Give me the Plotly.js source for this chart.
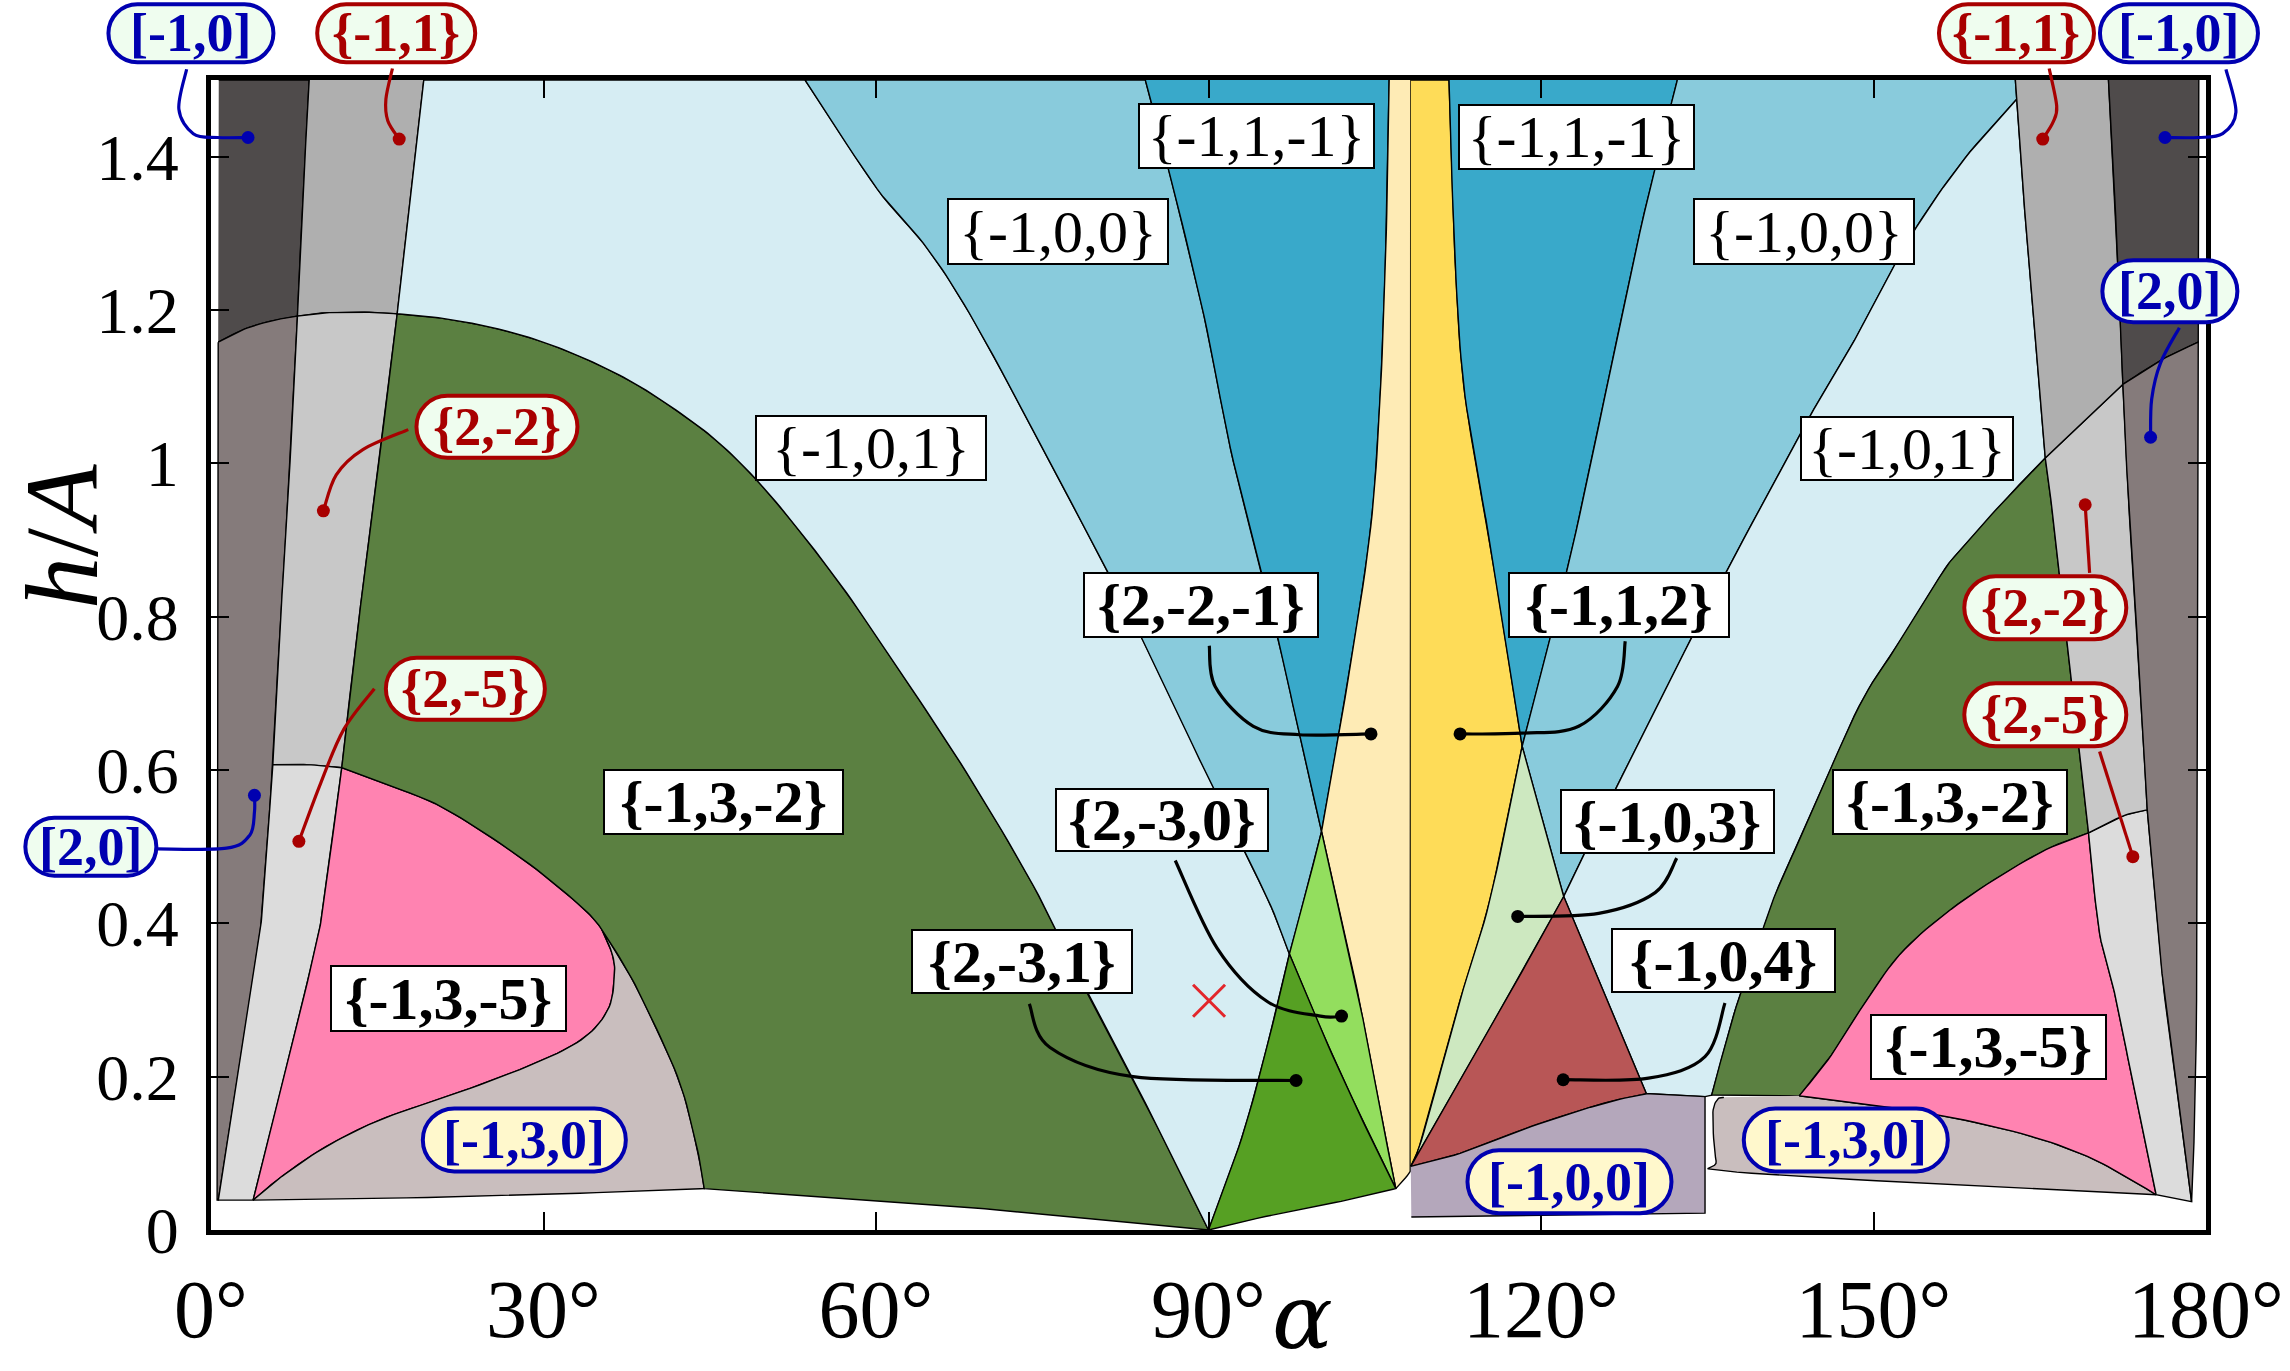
<!DOCTYPE html>
<html><head><meta charset="utf-8">
<script src="https://cdn.plot.ly/plotly-3.0.1.min.js"></script>
<style>html,body{margin:0;padding:0;background:#fff}#chart{width:2290px;height:1371px}</style>
</head><body><div id="chart"></div>
<script>
// ===== boundary curves: [alpha (deg), h/A] =====
const leftEdgeLow   = [[0.65,1.158],[0.55,0.039]];
const lineB_L_top   = [[8.86,1.5],[8.3,1.35],[7.8,1.192]];
const lineB_L_mid   = [[7.8,1.192],[6.95,0.953],[6.2,0.78],[5.58,0.607]];
const lineB_L_low   = [[5.58,0.607],[4.7,0.431],[4.2,0.366],[2.4,0.2],[0.66,0.039]];
const lineC_L_top   = [[19.2,1.5],[18.0,1.35],[16.8,1.195]];
const lineC_L_mid   = [[16.8,1.195],[14.74,0.953],[13.2,0.78],[11.8,0.603]];
const lineC_L_low   = [[11.8,0.603],[10.2,0.431],[9.39,0.366],[6.6,0.2],[3.8,0.039]];
const curve1_L_a    = [[0.65,1.158],[3,1.175],[5.5,1.186],[7.8,1.192]];
const curve1_L_b    = [[7.8,1.192],[10,1.196],[12.3,1.197],[14.5,1.197],[16.8,1.195]];
const greenTopL     = [[16.8,1.195],[20.5,1.19],[24.8,1.179],[28.3,1.166],[31.7,1.149],[35.2,1.127],[38.6,1.101],[42,1.069],[45.5,1.031],[49,0.982],[53.1,0.912],[57.8,0.822],[62.2,0.728],[68.2,0.596],[74.2,0.449],[78.7,0.319],[84.4,0.163],[90,0]];
const curve2_L      = [[5.58,0.607],[8.7,0.607],[11.8,0.603]];
const pinkTopL      = [[11.8,0.603],[16.5,0.578],[21.3,0.548],[28.2,0.483],[33.4,0.422],[35.2,0.394]];
const pinkSL        = [[35.2,0.394],[36.2,0.36],[36.4,0.331],[35.8,0.287],[33.4,0.248],[28.5,0.213],[21.3,0.174],[15.3,0.144],[10.4,0.109],[6.4,0.070],[3.8,0.039]];
const lowBoundL     = [[35.2,0.394],[37.5,0.34],[39.4,0.287],[42.3,0.192],[43.9,0.104],[44.5,0.054]];
const botL          = [[3.8,0.039],[21.3,0.043],[37.4,0.050],[44.5,0.054]];
const greenBotL     = [[44.5,0.054],[60.3,0.037],[71.2,0.026],[90,0]];

const lineD         = [[53.6,1.5],[60.1,1.358],[64.7,1.279],[68.9,1.184],[75.1,1.018],[80.8,0.861],[84.1,0.769],[90.4,0.577],[95.3,0.433],[97.3,0.36]];
const lineDlow      = [[97.3,0.36],[100.2,0.26],[103.5,0.155],[106.9,0.054]];
const lineE         = [[84.3,1.5],[86.4,1.384],[89.6,1.192],[92.0,1.018],[94.7,0.861],[96.5,0.758],[98.3,0.639],[100.2,0.52]];
const lineElow      = [[100.2,0.52],[101.9,0.41],[103.6,0.30],[105.3,0.17],[106.9,0.054]];
const lineFtop      = [[106.3,1.5],[106.0,1.279],[105.4,1.062],[104.5,0.9],[102.3,0.692],[100.2,0.52]];
const lineFmid      = [[100.2,0.52],[98.8,0.44],[97.3,0.36]];
const lineFlow      = [[97.3,0.36],[95.3,0.24],[93,0.12],[90,0]];
const vertLine      = [[108.25,1.5],[108.25,0.083]];
const bottomCurveA  = [[90,0],[96.5,0.022],[102.5,0.039],[106.9,0.054]];
const bottomCurveB  = [[106.9,0.054],[108.1,0.074],[108.25,0.083]];

const lineG         = [[111.7,1.5],[112.2,1.28],[113.0,1.105],[114.7,0.953],[115.5,0.888],[118.3,0.631]];
const lineGlowA     = [[118.3,0.631],[120.2,0.53],[122.05,0.435]];
const lineGlowB     = [[122.05,0.435],[125.8,0.305],[129.5,0.178]];
const lineI         = [[132.3,1.5],[128.9,1.3],[123.8,0.953],[121.4,0.804],[118.3,0.631]];
const lineIlow      = [[118.3,0.631],[115.4,0.431],[112.7,0.30],[109.4,0.126],[108.25,0.083]];
const lineJ         = [[162.92,1.475],[158.2,1.397],[153.4,1.297],[148.7,1.171],[144.6,1.07],[137.8,0.888],[133.5,0.77],[126.7,0.574],[122.05,0.435]];
const lineJlow      = [[122.05,0.435],[117.2,0.309],[112.5,0.19],[108.25,0.083]];
const lavTopA       = [[108.25,0.083],[112.7,0.10],[119.1,0.135],[125.6,0.165],[129.5,0.178]];
const lavTopB       = [[129.5,0.178],[132,0.176],[134.8,0.174]];
const lavBottom     = [[134.8,0.022],[108.3,0.017]];

const greenEdgeR    = [[165.5,1.007],[161.9,0.953],[157.9,0.888],[156.2,0.857],[152.5,0.77],[148.7,0.683],[143.9,0.527],[141.2,0.44],[139.5,0.37],[137.8,0.30],[136.4,0.23],[135.4,0.176]];
const curve1R_a     = [[165.5,1.007],[169.1,1.057],[172.5,1.103]];
const curve1R_b     = [[172.5,1.103],[176,1.135],[179.3,1.158]];
const lineC_R_tip   = [[162.8,1.5],[162.92,1.475]];
const lineC_R_top   = [[162.92,1.475],[163.4,1.38],[164.0,1.262],[165.5,1.007]];
const lineC_R_mid   = [[165.5,1.007],[166.0,0.953],[166.8,0.853],[167.9,0.714],[169.4,0.518]];
const lineC_R_low   = [[169.4,0.518],[170.4,0.387],[171.9,0.30],[173.7,0.17],[175.5,0.046]];
const lineB_R_top   = [[171.2,1.5],[172.0,1.279],[172.5,1.103]];
const lineB_R_mid   = [[172.5,1.103],[173.0,0.953],[174.0,0.727],[174.7,0.548]];
const lineB_R_low   = [[174.7,0.548],[175.7,0.387],[176.3,0.30],[177.5,0.17],[178.7,0.037]];
const rightEdgeTop  = [[179.35,1.5],[179.3,1.158]];
const rightEdgeLow  = [[179.3,1.158],[179.15,0.3],[178.7,0.037]];
const curve2R       = [[174.7,0.548],[172.5,0.54],[169.4,0.518]];
const pinkTopR      = [[169.4,0.518],[165.0,0.492],[158.2,0.431],[152.8,0.366],[149.4,0.30],[146.2,0.228],[143.3,0.175]];
const pinkBotR      = [[143.3,0.175],[154.3,0.154],[163.3,0.126],[169.3,0.096],[173.3,0.065],[175.5,0.046]];
const bot130R       = [[175.5,0.046],[154.3,0.061],[136.6,0.077],[135.8,0.09],[135.5,0.15],[135.9,0.17],[136.5,0.173]];

// ===== tick labels =====
const xTickVals = [0,30,60,90,120,150,180];
const xTickText = ['0°','30°','60°','90°','120°','150°','180°'];
const yTickVals = [0,0.2,0.4,0.6,0.8,1,1.2,1.4];
const yTickText = ['0','0.2','0.4','0.6','0.8','1','1.2','1.4'];

// ===== marked point =====
const crossAlpha = [90.05];
const crossH = [0.299];

// ===== helpers =====
const rev = a => a.slice().reverse();
const cat = (...s) => [].concat(...s);
const XR = [0,180], YR = [0,1.5];
const toPx = a => (a - XR[0]) / (XR[1] - XR[0]);
const toPy = h => (h - YR[0]) / (YR[1] - YR[0]);
// smooth a boundary through its read-off points (Catmull-Rom)
function sm(c, n){
  n = n || 10;
  if (c.length < 3) return c.slice();
  const out = [], L = c.length;
  for (let i=0;i<L-1;i++){
    const p0=c[Math.max(i-1,0)], p1=c[i], p2=c[i+1], p3=c[Math.min(i+2,L-1)];
    for (let k=0;k<n;k++){
      const t=k/n, t2=t*t, t3=t2*t;
      const f = j => 0.5*((2*p1[j]) + (-p0[j]+p2[j])*t + (2*p0[j]-5*p1[j]+4*p2[j]-p3[j])*t2 + (-p0[j]+3*p1[j]-3*p2[j]+p3[j])*t3);
      out.push([f(0), f(1)]);
    }
  }
  out.push(c[L-1]);
  return out;
}
const S = sm;

// ===== regions =====
const regions = [
  {c:'#4f4b4b', p: cat([[0.7,1.5]], S(lineB_L_top), rev(S(curve1_L_a)))},
  {c:'#afafaf', p: cat(S(lineC_L_top), rev(S(curve1_L_b)), rev(S(lineB_L_top)))},
  {c:'#857b7b', p: cat(S(curve1_L_a), S(lineB_L_mid), S(lineB_L_low), rev(leftEdgeLow))},
  {c:'#c8c8c8', p: cat(S(curve1_L_b), S(lineC_L_mid), rev(S(curve2_L)), rev(S(lineB_L_mid)))},
  {c:'#dcdcdc', p: cat(S(curve2_L), S(lineC_L_low), rev(S(lineB_L_low)))},
  {c:'#ff83b1', p: cat(S(pinkTopL), S(pinkSL), rev(S(lineC_L_low)))},
  {c:'#c9bebe', p: cat(S(lowBoundL), rev(S(botL)), rev(S(pinkSL)))},
  {c:'#5b8041', p: cat(S(greenTopL), rev(S(greenBotL)), rev(S(lowBoundL)), rev(S(pinkTopL)), rev(S(lineC_L_mid)))},
  {c:'#d6edf3', p: cat([[19.2,1.5]], S(lineD), S(lineFlow), rev(S(greenTopL)), rev(S(lineC_L_top)))},
  {c:'#89cbdc', p: cat([[53.6,1.5]], S(lineE), S(lineFmid), rev(S(lineD)))},
  {c:'#39a9ca', p: cat(S(lineFtop), rev(S(lineE)))},
  {c:'#feebb5', p: cat(vertLine, rev(S(bottomCurveB)), rev(S(lineElow)), rev(S(lineFtop)))},
  {c:'#93de5e', p: cat(S(lineElow), rev(S(lineDlow)), rev(S(lineFmid)))},
  {c:'#56a023', p: cat(S(lineDlow), rev(S(bottomCurveA)), rev(S(lineFlow)))},
  {c:'#fedc58', p: cat([[108.25,1.5]], S(lineG), S(lineIlow))},
  {c:'#39a9ca', p: cat(S(lineI), rev(S(lineG)))},
  {c:'#89cbdc', p: cat([[162.8,1.5]], S(lineJ), rev(S(lineGlowA)), rev(S(lineI)))},
  {c:'#d6edf3', p: cat(S(lineJ), S(lineGlowB), S(lavTopB), [[135.4,0.176]], rev(S(greenEdgeR)), rev(S(lineC_R_top)))},
  {c:'#cde8c0', p: cat(S(lineGlowA), S(lineJlow), rev(S(lineIlow)))},
  {c:'#b85656', p: cat(S(lineGlowB), rev(S(lavTopA)), rev(S(lineJlow)))},
  {c:'#b4a7bb', p: cat(S(lavTopA), S(lavTopB), lavBottom)},
  {c:'#5b8041', p: cat(S(greenEdgeR), [[143.3,0.175]], rev(S(pinkTopR)), rev(S(lineC_R_mid)))},
  {c:'#c9bebe', p: cat(S(pinkBotR), S(bot130R))},
  {c:'#ff83b1', p: cat(S(pinkTopR), S(pinkBotR), rev(S(lineC_R_low)))},
  {c:'#dcdcdc', p: cat(rev(S(curve2R)), S(lineB_R_low), rev(S(lineC_R_low)))},
  {c:'#c8c8c8', p: cat(S(curve1R_a), S(lineB_R_mid), S(curve2R), rev(S(lineC_R_mid)))},
  {c:'#afafaf', p: cat(S(lineB_R_top), rev(S(curve1R_a)), rev(S(lineC_R_top)), rev(lineC_R_tip))},
  {c:'#4f4b4b', p: cat(rightEdgeTop, rev(S(curve1R_b)), rev(S(lineB_R_top)))},
  {c:'#857b7b', p: cat(S(curve1R_b), S(rightEdgeLow).slice(1), rev(S(lineB_R_low)), rev(S(lineB_R_mid)))}
];

const traces = regions.map(r => ({
  type:'scatter', mode:'lines', x:r.p.map(q=>q[0]), y:r.p.map(q=>q[1]),
  fill:'toself', fillcolor:r.c, line:{color:'#000', width:1.4},
  hoverinfo:'skip', showlegend:false
}));

// ===== leaders (curves ending in a dot) =====
const RED='#a80000', BLUE='#0000b0', BLK='#000';
const leaders = [
  {c:BLUE, p:[[-2.2,1.514],[-2.9,1.462],[-1.6,1.43],[0.6,1.425],[3.34,1.425]]},
  {c:RED,  p:[[16.37,1.515],[15.78,1.475],[15.95,1.447],[16.98,1.423]]},
  {c:RED,  p:[[165.85,1.515],[166.53,1.466],[166.2,1.445],[165.27,1.423]]},
  {c:BLUE, p:[[181.8,1.514],[182.7,1.458],[181.5,1.43],[179.3,1.425],[176.3,1.425]]},
  {c:BLUE, p:[[177.6,1.177],[175.9,1.131],[175.1,1.084],[175.0,1.034]]},
  {c:RED,  p:[[17.8,1.044],[13.7,1.018],[11.3,0.985],[10.14,0.938]]},
  {c:RED,  p:[[169.5,0.857],[169.1,0.946]]},
  {c:RED,  p:[[14.74,0.706],[11.98,0.653],[9.9,0.583],[7.93,0.507]]},
  {c:RED,  p:[[170.4,0.624],[173.4,0.487]]},
  {c:BLUE, p:[[-4.9,0.497],[1.4,0.498],[3.5,0.515],[3.92,0.545],[3.92,0.567]]},
  {c:BLK,  p:[[90.07,0.762],[90.6,0.709],[94.05,0.657],[98.2,0.646],[104.66,0.647]]},
  {c:BLK,  p:[[127.6,0.768],[126.9,0.709],[123.4,0.657],[118.25,0.648],[112.7,0.647]]},
  {c:BLK,  p:[[87.0,0.482],[90.76,0.368],[95.3,0.298],[100.1,0.279],[102.0,0.279]]},
  {c:BLK,  p:[[132.25,0.485],[130.3,0.44],[125.2,0.413],[117.9,0.409]]},
  {c:BLK,  p:[[73.83,0.295],[75.7,0.238],[83.2,0.2],[97.9,0.195]]},
  {c:BLK,  p:[[136.6,0.296],[134.8,0.226],[129.7,0.198],[122.0,0.196]]}
];

function smoothPath(pts){
  const P = pts.map(q=>[toPx(q[0]), toPy(q[1])]);
  let d = `M${P[0][0]},${P[0][1]}`;
  if (P.length === 2) return d + ` L${P[1][0]},${P[1][1]}`;
  for (let i=0;i<P.length-1;i++){
    const p0=P[Math.max(i-1,0)], p1=P[i], p2=P[i+1], p3=P[Math.min(i+2,P.length-1)];
    const c1=[p1[0]+(p2[0]-p0[0])/6, p1[1]+(p2[1]-p0[1])/6];
    const c2=[p2[0]-(p3[0]-p1[0])/6, p2[1]-(p3[1]-p1[1])/6];
    d += ` C${c1[0]},${c1[1]} ${c2[0]},${c2[1]} ${p2[0]},${p2[1]}`;
  }
  return d;
}

const shapes = [];
leaders.forEach(l => shapes.push({type:'path', xref:'paper', yref:'paper', layer:'above',
  path: smoothPath(l.p), line:{color:l.c, width:3.2}, fillcolor:'rgba(0,0,0,0)'}));

leaders.forEach(l => {
  const e = l.p[l.p.length-1];
  traces.push({type:'scatter', mode:'markers', x:[e[0]], y:[e[1]], cliponaxis:false,
    marker:{color:l.c, size:13}, hoverinfo:'skip', showlegend:false});
});

traces.push({type:'scatter', mode:'markers', x:crossAlpha, y:crossH,
  marker:{symbol:'x-thin', size:32, line:{color:'#e3262b', width:3}}, hoverinfo:'skip', showlegend:false});

// ===== labels =====
const SERIF = 'Liberation Serif, DejaVu Serif, serif';
const boxText = ['{-1,1,-1}','{-1,1,-1}','{-1,0,0}','{-1,0,0}','{-1,0,1}','{-1,0,1}','{2,-2,-1}','{-1,1,2}','{-1,3,-2}','{-1,3,-2}','{2,-3,0}','{-1,0,3}','{2,-3,1}','{-1,0,4}','{-1,3,-5}','{-1,3,-5}'];
const boxPos = [[94.37,1.427],[123.2,1.426],[76.44,1.302],[143.77,1.302],[59.53,1.02],[153.0,1.019],[89.34,0.815],[127.0,0.815],[46.22,0.558],[156.9,0.558],[85.76,0.535],[131.45,0.533],[73.17,0.350],[136.5,0.351],[21.43,0.302],[160.4,0.239]];
const boxSize = [[237,66],[237,66],[222,67],[222,67],[232,66],[214,65],[236,66],[222,66],[241,66],[236,66],[214,64],[215,65],[222,65],[225,65],[237,67],[237,66]];
const boxBold = [0,0,0,0,0,0,1,1,1,1,1,1,1,1,1,1];

const pillText = ['[-1,0]','{-1,1}','{-1,1}','[-1,0]','[2,0]','{2,-2}','{2,-2}','{2,-5}','{2,-5}','[2,0]','[-1,3,0]','[-1,0,0]','[-1,3,0]'];
const pillPos = [[-1.81,1.561],[16.71,1.561],[162.9,1.561],[177.56,1.561],[176.74,1.2245],[25.8,1.0477],[165.5,0.8116],[22.95,0.706],[165.5,0.672],[-10.84,0.5],[28.27,0.1175],[122.57,0.063],[147.5,0.1175]];
const pillSize = [[165,58],[158,58],[155,58],[158,58],[135,62],[161,62],[162,63],[159,62],[162,63],[131,58],[203,63],[204,63],[204,63]];
const pillKind = ['b','r','r','b','b','r','r','r','r','b','y','y','y'];

function pillPath(w,h){
  const r=h/2, k=0.5523*r, x1=-w/2+r, x2=w/2-r;
  return `M${x1},${-r} L${x2},${-r} C${x2+k},${-r} ${w/2},${-k} ${w/2},0 C${w/2},${k} ${x2+k},${r} ${x2},${r} L${x1},${r} C${x1-k},${r} ${-w/2},${k} ${-w/2},0 C${-w/2},${-k} ${x1-k},${-r} ${x1},${-r} Z`;
}

const annotations = [];
boxText.forEach((t,i) => annotations.push({
  xref:'paper', yref:'paper', x:toPx(boxPos[i][0]), y:toPy(boxPos[i][1]), xanchor:'center', yanchor:'middle',
  text:t, showarrow:false, bgcolor:'#fff', bordercolor:'#000', borderwidth:2, borderpad:0,
  width:boxSize[i][0]-4, height:boxSize[i][1]-4, align:'center', valign:'middle',
  font:{family:SERIF, size:60, color:'#000', weight: boxBold[i] ? 700 : 400}
}));
pillText.forEach((t,i) => {
  const col = pillKind[i]==='r' ? RED : BLUE;
  const fill = pillKind[i]==='y' ? '#fff8cc' : '#effdef';
  shapes.push({type:'path', xref:'paper', yref:'paper', xsizemode:'pixel', ysizemode:'pixel',
    xanchor:toPx(pillPos[i][0]), yanchor:toPy(pillPos[i][1]), path:pillPath(pillSize[i][0], pillSize[i][1]),
    fillcolor:fill, line:{color:col, width:4}, layer:'above'});
  annotations.push({xref:'paper', yref:'paper', x:toPx(pillPos[i][0]), y:toPy(pillPos[i][1]),
    xanchor:'center', yanchor:'middle', text:t, showarrow:false,
    font:{family:SERIF, size:54, color:col, weight:700}});
});

// axis titles
annotations.push({xref:'paper', yref:'paper', x:-0.0747, y:0.6035, xanchor:'center', yanchor:'middle',
  text:'<i>h</i>/<i>A</i>', textangle:-90, showarrow:false, font:{family:SERIF, size:104, color:'#000'}});
annotations.push({xref:'paper', yref:'paper', x:0.547, y:-0.075, xanchor:'center', yanchor:'middle',
  text:'<i>α</i>', showarrow:false, font:{family:'DejaVu Serif, Liberation Serif, serif', size:90, color:'#000'}});

const layout = {
  width:2290, height:1371,
  margin:{l:211, r:84, t:80, b:141},
  paper_bgcolor:'#fff', plot_bgcolor:'#fff',
  showlegend:false,
  xaxis:{range:XR, tickvals:xTickVals, ticktext:xTickText, ticks:'inside', ticklen:18, tickwidth:2,
    tickcolor:'#000', showline:true, linecolor:'#000', linewidth:5, mirror:'ticks',
    showgrid:false, zeroline:false, fixedrange:true, ticklabelstandoff:4,
    tickfont:{family:SERIF, size:82, color:'#000'}},
  yaxis:{range:YR, tickvals:yTickVals, ticktext:yTickText, ticks:'inside', ticklen:18, tickwidth:2,
    tickcolor:'#000', showline:true, linecolor:'#000', linewidth:5, mirror:'ticks',
    showgrid:false, zeroline:false, fixedrange:true, ticklabelstandoff:14,
    tickfont:{family:SERIF, size:66, color:'#000'}},
  shapes:shapes,
  annotations:annotations
};

Plotly.newPlot('chart', traces, layout, {staticPlot:true, displayModeBar:false});
</script>
</body></html>
